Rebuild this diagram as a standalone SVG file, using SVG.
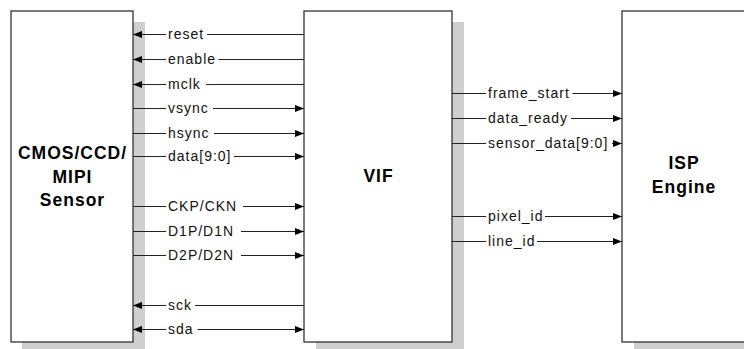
<svg xmlns="http://www.w3.org/2000/svg" width="744" height="349" viewBox="0 0 744 349">
<style>
.shadow{fill:#cfcfcf;stroke:none}
.box{fill:#fff;stroke:#333;stroke-width:1.3}
.title{font-family:"Liberation Sans",Arial,sans-serif;font-size:17.5px;font-weight:bold;letter-spacing:1px;fill:#000;text-anchor:middle}
.wire{stroke:#222;stroke-width:1;fill:none}
.r{marker-end:url(#ah)}
.b{marker-start:url(#ah);marker-end:url(#ah)}
.bg{fill:#fff;stroke:none}
.lbl{font-family:"Liberation Sans",Arial,sans-serif;font-size:14px;letter-spacing:1px;fill:#111}
</style>
<defs>
<marker id="ah" markerUnits="userSpaceOnUse" markerWidth="10" markerHeight="8" refX="9" refY="3.5" orient="auto-start-reverse">
<path d="M0,0 L9,3.5 L0,7 z" fill="#000"/>
</marker>
</defs>
<rect width="744" height="349" fill="#fff"/>
<g id="sensor">
<rect class="shadow" x="22" y="22" width="123" height="330"/>
<rect class="box" x="11" y="11" width="122" height="331"/>
<text class="title" x="72.5" y="158.5">CMOS/CCD/</text>
<text class="title" x="72.5" y="182.5">MIPI</text>
<text class="title" x="72.5" y="205.5">Sensor</text>
</g>
<g id="vif">
<rect class="shadow" x="316" y="22" width="148" height="330"/>
<rect class="box" x="304" y="11" width="148" height="331"/>
<text class="title" x="378.5" y="182">VIF</text>
</g>
<g id="isp">
<rect class="shadow" x="634" y="22" width="130" height="330"/>
<rect class="box" x="622" y="11" width="130" height="331"/>
<text class="title" x="684" y="169">ISP</text>
<text class="title" x="684" y="192.5">Engine</text>
</g>
<g id="connectors">
<line class="wire r" x1="304" y1="34.5" x2="133" y2="34.5"/>
<line class="wire r" x1="304" y1="59.5" x2="133" y2="59.5"/>
<line class="wire r" x1="304" y1="84.5" x2="133" y2="84.5"/>
<line class="wire r" x1="133" y1="108.5" x2="304" y2="108.5"/>
<line class="wire r" x1="133" y1="133.5" x2="304" y2="133.5"/>
<line class="wire r" x1="133" y1="156.5" x2="304" y2="156.5"/>
<line class="wire r" x1="133" y1="206.5" x2="304" y2="206.5"/>
<line class="wire r" x1="133" y1="231.5" x2="304" y2="231.5"/>
<line class="wire r" x1="133" y1="255.5" x2="304" y2="255.5"/>
<line class="wire r" x1="304" y1="305.5" x2="133" y2="305.5"/>
<line class="wire b" x1="133" y1="329.5" x2="304" y2="329.5"/>
<line class="wire r" x1="452" y1="93.5" x2="622" y2="93.5"/>
<line class="wire r" x1="452" y1="118.5" x2="622" y2="118.5"/>
<line class="wire r" x1="452" y1="143.5" x2="622" y2="143.5"/>
<line class="wire r" x1="452" y1="216.5" x2="622" y2="216.5"/>
<line class="wire r" x1="452" y1="241.5" x2="622" y2="241.5"/>
<rect class="bg" x="166" y="28" width="41" height="13"/>
<rect class="bg" x="166" y="53" width="52.5" height="13"/>
<rect class="bg" x="166" y="78" width="40" height="13"/>
<rect class="bg" x="166" y="102" width="47" height="13"/>
<rect class="bg" x="166" y="127" width="48" height="13"/>
<rect class="bg" x="166" y="150" width="68" height="13"/>
<rect class="bg" x="166" y="200" width="77" height="13"/>
<rect class="bg" x="166" y="225" width="75" height="13"/>
<rect class="bg" x="166" y="249" width="75" height="13"/>
<rect class="bg" x="166" y="299" width="29" height="13"/>
<rect class="bg" x="166" y="323" width="31.5" height="13"/>
<rect class="bg" x="486" y="87" width="86.5" height="13"/>
<rect class="bg" x="486" y="112" width="85" height="13"/>
<rect class="bg" x="486" y="137" width="126" height="13"/>
<rect class="bg" x="486" y="210" width="59" height="13"/>
<rect class="bg" x="486" y="235" width="51" height="13"/>
<text class="lbl" x="168" y="39">reset</text>
<text class="lbl" x="168" y="64">enable</text>
<text class="lbl" x="168" y="89">mclk</text>
<text class="lbl" x="168" y="113">vsync</text>
<text class="lbl" x="168" y="138">hsync</text>
<text class="lbl" x="168" y="161">data[9:0]</text>
<text class="lbl" x="168" y="211">CKP/CKN</text>
<text class="lbl" x="168" y="236">D1P/D1N</text>
<text class="lbl" x="168" y="260">D2P/D2N</text>
<text class="lbl" x="168" y="310">sck</text>
<text class="lbl" x="168" y="334">sda</text>
<text class="lbl" x="488" y="98">frame_start</text>
<text class="lbl" x="488" y="123">data_ready</text>
<text class="lbl" x="488" y="148">sensor_data[9:0]</text>
<text class="lbl" x="488" y="221">pixel_id</text>
<text class="lbl" x="488" y="246">line_id</text>
</g>
</svg>
